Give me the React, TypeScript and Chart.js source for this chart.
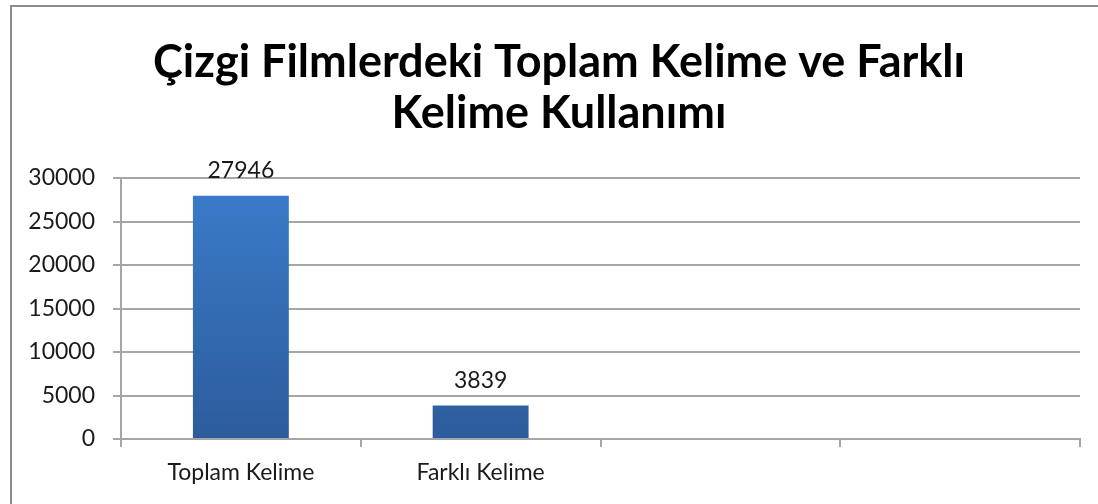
import React, { useEffect, useRef } from "react";
import { Chart, registerables } from "chart.js";

Chart.register(...registerables);

const categories = ["Toplam Kelime", "Farklı Kelime", "", ""];
const values = [27946, 3839, null, null];
const valueLabels = ["27946", "3839", "", ""];
const titleLines = ["Çizgi Filmlerdeki Toplam Kelime ve Farklı", "Kelime Kullanımı"];
const yMin = 0;
const yMax = 30000;
const yStep = 5000;

const FONT = "Lato, 'Open Sans', sans-serif";

const framePlugin = {
  id: "frame",
  beforeDraw(chart: any) {
    const ctx = chart.ctx;
    ctx.save();
    ctx.fillStyle = "#ffffff";
    ctx.fillRect(0, 0, chart.width, chart.height);
    ctx.strokeStyle = "#8c8c8c";
    ctx.lineWidth = 2;
    ctx.beginPath();
    ctx.moveTo(11, chart.height);
    ctx.lineTo(11, 6);
    ctx.lineTo(chart.width, 6);
    ctx.stroke();
    // title
    ctx.font = `bold 45px ${FONT}`;
    ctx.fillStyle = "#000000";
    ctx.textAlign = "center";
    ctx.textBaseline = "middle";
    titleLines.forEach((line, i) => {
      ctx.fillText(line, 559, 62 + i * 51);
    });
    ctx.restore();
  },
};

const valueLabelPlugin = {
  id: "valueLabels",
  afterDatasetsDraw(chart: any) {
    const ctx = chart.ctx;
    const meta = chart.getDatasetMeta(0);
    ctx.save();
    ctx.font = `23px ${FONT}`;
    ctx.fillStyle = "#1a1a1a";
    ctx.textAlign = "center";
    ctx.textBaseline = "bottom";
    meta.data.forEach((bar: any, i: number) => {
      if (values[i] == null) return;
      ctx.fillText(valueLabels[i], bar.x, bar.y - 14);
    });
    ctx.restore();
  },
};

export default function App() {
  const ref = useRef<HTMLCanvasElement>(null);

  useEffect(() => {
    const canvas = ref.current!;
    const chart = new Chart(canvas, {
      type: "bar",
      data: {
        labels: categories,
        datasets: [
          {
            data: values as any,
            backgroundColor: (c: any) => {
              const area = c.chart.chartArea;
              if (!area) return "#3a78c6";
              const g = c.chart.ctx.createLinearGradient(0, area.top, 0, area.bottom);
              g.addColorStop(0, "#3b7ccb");
              g.addColorStop(1, "#2c5c9c");
              return g;
            },
            borderWidth: 0,
            barPercentage: 0.4,
            categoryPercentage: 1,
          },
        ],
      },
      options: {
        responsive: false,
        animation: false,
        layout: { padding: { left: 20, right: 18, top: 178, bottom: 0 } },
        plugins: {
          legend: { display: false },
          tooltip: { enabled: false },
          title: { display: false },
        },
        scales: {
          x: {
            offset: true,
            grid: {
              offset: true,
              drawOnChartArea: false,
              drawTicks: true,
              tickLength: 8,
              color: "#a6a6a6",
              lineWidth: 2,
            },
            border: { display: true, color: "#a6a6a6", width: 2 },
            ticks: {
              color: "#1a1a1a",
              font: { family: FONT, size: 23 },
              padding: 12,
              maxRotation: 0,
            },
            afterFit: (s: any) => {
              s.height = 65;
            },
          },
          y: {
            min: yMin,
            max: yMax,
            grid: {
              color: "#a6a6a6",
              lineWidth: 2,
              drawTicks: true,
              tickLength: 8,
            },
            border: { display: true, color: "#a6a6a6", width: 2 },
            ticks: {
              stepSize: yStep,
              color: "#1a1a1a",
              font: { family: FONT, size: 23 },
              padding: 18,
              callback: (v: any) => String(v),
            },
            afterFit: (s: any) => {
              s.width = 101;
            },
          },
        },
      },
      plugins: [framePlugin, valueLabelPlugin],
    });
    return () => chart.destroy();
  }, []);

  return (
    <div style={{ position: "fixed", left: 0, top: 0, width: 1098, height: 504 }}>
      <canvas ref={ref} width={1098} height={504} />
    </div>
  );
}
